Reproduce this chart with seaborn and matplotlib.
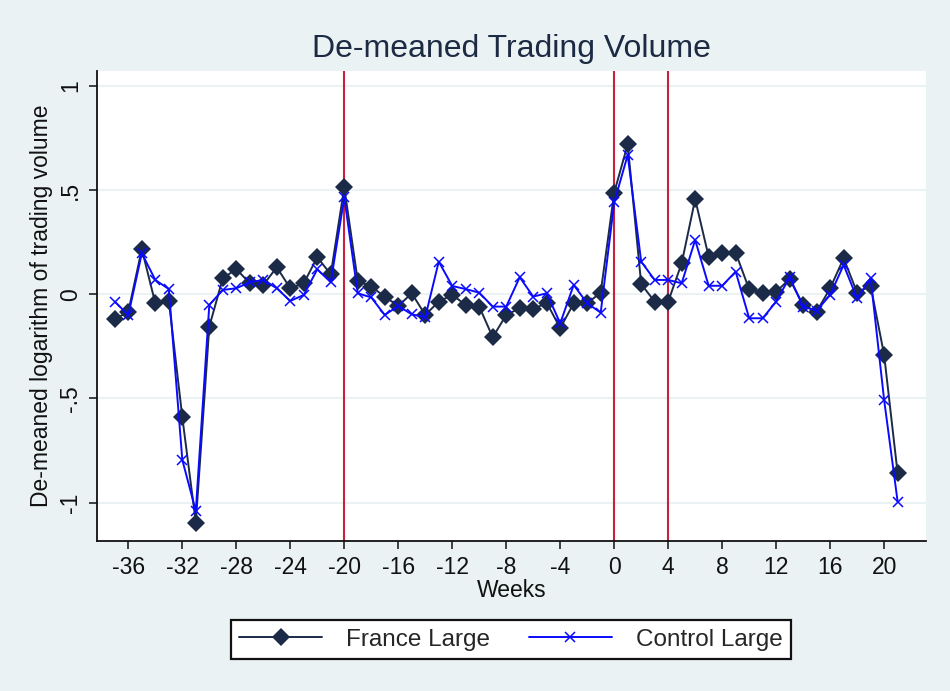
import pandas as pd
import seaborn as sns
import matplotlib.pyplot as plt

weeks = list(range(-37, 22))

france_large = [-0.12, -0.083, 0.217, -0.043, -0.03, -0.59, -1.096, -0.155, 0.077, 0.121,
                0.053, 0.045, 0.13, 0.029, 0.053, 0.178, 0.096, 0.514, 0.064, 0.037,
                -0.011, -0.056, 0.005, -0.099, -0.035, -0.003, -0.051, -0.059, -0.206, -0.099,
                -0.067, -0.072, -0.04, -0.163, -0.043, -0.043, 0.008, 0.488, 0.72, 0.049,
                -0.035, -0.035, 0.149, 0.457, 0.18, 0.2, 0.2, 0.024, 0.008, 0.013,
                0.073, -0.051, -0.083, 0.029, 0.173, 0.008, 0.041, -0.291, -0.859]

control_large = [-0.035, -0.10, 0.197, 0.069, 0.025, -0.795, -1.04, -0.051, 0.021, 0.029,
                 0.058, 0.069, 0.029, -0.032, -0.003, 0.12, 0.058, 0.465, 0.005, -0.015,
                 -0.099, -0.056, -0.096, -0.11, 0.157, 0.04, 0.025, 0.008, -0.059, -0.059,
                 0.082, -0.011, 0.005, -0.139, 0.045, -0.043, -0.088, 0.441, 0.669, 0.157,
                 0.069, 0.069, 0.053, 0.261, 0.041, 0.041, 0.109, -0.115, -0.115, -0.035,
                 0.082, -0.059, -0.079, -0.003, 0.141, -0.02, 0.077, -0.507, -0.995]

event_weeks = [-20, 0, 4]
x_ticks = list(range(-36, 21, 4))
y_ticks = [-1, -0.5, 0, 0.5, 1]
y_labels = ['-1', '-.5', '0', '.5', '1']

df = pd.DataFrame({'week': weeks, 'France Large': france_large, 'Control Large': control_large})

bg = '#eaf2f3'
navy = '#1b2a47'
blue = '#0a0aff'
sns.set_style('white')
plt.rcParams['font.family'] = ['Liberation Sans', 'DejaVu Sans']
plt.rcParams['axes.unicode_minus'] = False

fig = plt.figure(figsize=(9.5, 6.91), dpi=100, facecolor=bg)
ax = fig.add_axes([0.1024, 0.2175, 0.8723, 0.6797])
ax.set_facecolor('white')

# light horizontal grid + event lines
for y in y_ticks:
    ax.axhline(y, color=bg, lw=1.5, zorder=0)
for w in event_weeks:
    ax.axvline(w, color='#c8213f', lw=1.5, zorder=1)

sns.lineplot(data=df, x='week', y='France Large', ax=ax, color=navy, lw=1.4,
             marker='D', markersize=9, markeredgewidth=0, markerfacecolor=navy,
             label='France Large', zorder=3)
sns.lineplot(data=df, x='week', y='Control Large', ax=ax, color=blue, lw=1.4,
             marker='x', markersize=7, markeredgewidth=1.1, markeredgecolor=blue,
             label='Control Large', zorder=4)

ax.set_xlim(-38.3, 23.1)
ax.set_ylim(-1.183, 1.072)
ax.set_xticks(x_ticks)
ax.set_yticks(y_ticks)
ax.set_yticklabels(y_labels, rotation=90, va='center')
ax.tick_params(axis='both', direction='out', length=6, width=1.2, color='#222222',
               labelsize=16.5, labelcolor='#111111', pad=5, left=True, bottom=True)

for s in ['top', 'right']:
    ax.spines[s].set_visible(False)
for s in ['left', 'bottom']:
    ax.spines[s].set_color('#111111')
    ax.spines[s].set_linewidth(1.3)

ax.set_xlabel('Weeks', fontsize=16.5, color='#111111', labelpad=0)
ax.set_ylabel('De-meaned logarithm of trading volume', fontsize=16.5, color='#111111', labelpad=4)
ax.set_title('De-meaned Trading Volume', fontsize=23, color='#1c2a44', pad=10)

ax.get_legend().remove()
handles, labels = ax.get_legend_handles_labels()
leg = fig.legend(handles, labels, loc='center', bbox_to_anchor=(0.538, 0.074), ncol=2,
                 fontsize=17.5, frameon=True, fancybox=False, edgecolor='#111111',
                 framealpha=1, handlelength=3.4, columnspacing=1.6, borderpad=0.35,
                 handletextpad=1.0)
leg.get_frame().set_linewidth(1.6)

fig.savefig('out.png', dpi=100, facecolor=bg)
